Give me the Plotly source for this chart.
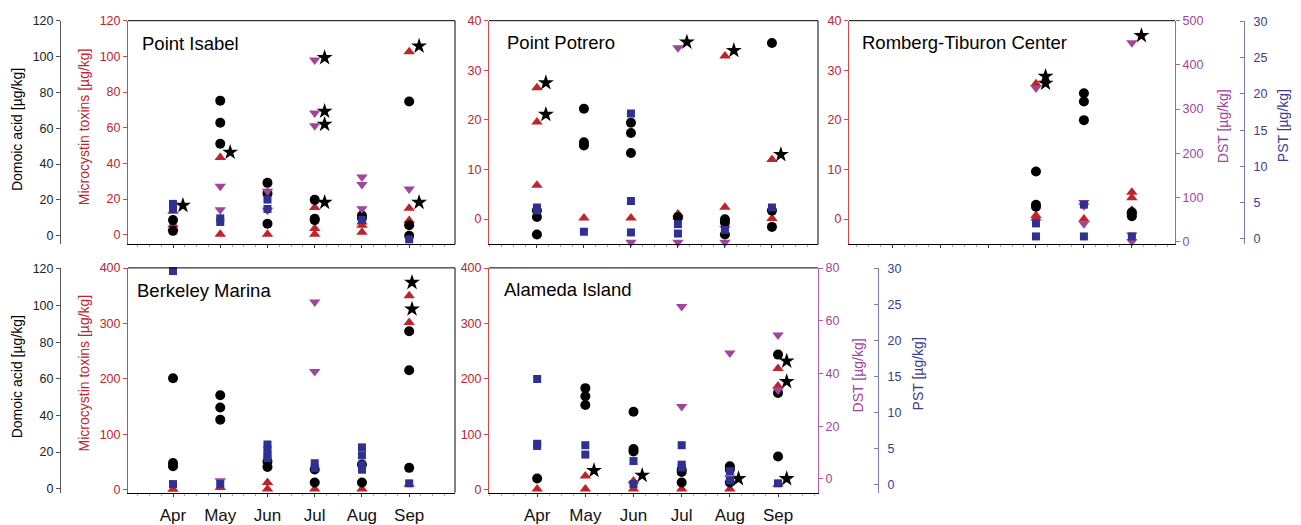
import plotly.graph_objects as go

W, H = 1301, 525
months = ["Apr", "May", "Jun", "Jul", "Aug", "Sep"]

# ---------------- Point Isabel ----------------
isabel_da_m = ["Apr","Apr","May","May","May","Jun","Jun","Jun","Jul","Jul","Jul","Aug","Aug","Sep","Sep","Sep"]
isabel_da = [8.7,2.7,75.4,63.1,51.3,29.5,23.6,6.7,20.0,9.4,8.7,11.3,9.8,74.9,5.8,0.0]
isabel_mc_m = ["Apr","Apr","Apr","May","May","Jun","Jul","Jul","Jul","Aug","Aug","Aug","Sep","Sep","Sep"]
isabel_mc = [13.2,5.5,3.8,43.3,0.2,0.2,15.3,3.5,0.2,7.1,5.3,1.3,102.6,14.8,8.0]
isabel_dst_m = ["May","May","Jun","Jun","Jul","Jul","Jul","Aug","Aug","Aug","Sep"]
isabel_dst = [125,72,114,71,411,291,262,146,129,74,119]
isabel_pst_m = ["Apr","Apr","May","May","Jun","Jun","Aug","Sep"]
isabel_pst = [4.8,4.1,2.8,2.3,5.4,4.1,2.6,-0.1]
isabel_star_m = ["Apr","May","Jul","Jul","Jul","Jul","Sep","Sep"]
isabel_star = [16.4,46.2,99.3,69.2,61.9,18.1,105.8,18.1]

# ---------------- Point Potrero ----------------
potrero_da_m = ["Apr","Apr","Apr","May","May","May","Jun","Jun","Jun","Jul","Aug","Aug","Aug","Sep","Sep","Sep"]
potrero_da = [14.0,10.4,0.7,70.9,52.2,50.4,63.1,57.3,46.2,10.4,9.1,7.3,0.7,107.6,14.0,4.9]
potrero_mc_m = ["Apr","Apr","Apr","May","Jun","Jul","Jul","Aug","Aug","Sep","Sep"]
potrero_mc = [26.5,19.6,6.8,0.2,0.2,1.0,0.4,32.9,2.4,12.0,0.1]
potrero_dst_m = ["Jun","Jul","Jul","Aug","Aug"]
potrero_dst = [-1.5,438.7,-1.5,29.4,-1.5]
potrero_pst_m = ["Apr","Apr","May","Jun","Jun","Jun","Jul","Jul","Aug","Sep"]
potrero_pst = [4.3,3.9,0.95,17.3,5.2,0.85,2.0,0.7,1.2,4.3]
potrero_star_m = ["Apr","Apr","Jul","Aug","Sep"]
potrero_star = [27.5,21.1,35.7,34.0,13.0]

# ---------------- Romberg-Tiburon Center ----------------
romberg_da_m = ["Jul","Jul","Jul","Aug","Aug","Aug","Sep","Sep"]
romberg_da = [35.8,17.3,16.2,79.5,74.9,64.5,13.1,10.8]
romberg_mc_m = ["Jul","Jul","Jul","Aug","Sep","Sep","Sep","Sep"]
romberg_mc = [27.3,0.7,0.2,0.0,5.4,4.3,1.8,1.3]
romberg_dst_m = ["Jul","Aug","Aug","Aug","Sep","Sep","Sep"]
romberg_dst = [348,88.5,81,40.5,450,14.8,0]
romberg_pst_m = ["Jul","Jul","Aug","Aug","Sep"]
romberg_pst = [2.1,0.3,4.7,0.3,0.3]
romberg_star_m = ["Jul","Jul","Sep"]
romberg_star = [28.8,27.4,37.0]

# ---------------- Berkeley Marina ----------------
berkeley_da_m = ["Apr","Apr","Apr","May","May","May","Jun","Jun","Jul","Jul","Aug","Aug","Sep","Sep","Sep"]
berkeley_da = [60.3,14.0,12.3,51.0,44.3,37.7,14.9,11.9,10.5,3.4,13.2,3.4,86.0,64.7,11.4]
berkeley_mc_m = ["Apr","May","Jun","Jun","Jul","Aug","Sep","Sep","Sep"]
berkeley_mc = [1.0,4.0,12.9,1.2,1.2,1.2,349.8,301.8,10.0]
berkeley_dst_m = ["May","Jul","Jul"]
berkeley_dst = [-0.7,67.1,40.8]
berkeley_pst_m = ["Apr","Apr","May","Jun","Jun","Jun","Jun","Jul","Jul","Aug","Aug","Aug","Aug","Sep"]
berkeley_pst = [29.7,0.1,0.1,5.6,4.9,4.2,3.7,3.0,2.3,5.2,4.1,2.8,2.1,0.2]
berkeley_star_m = ["Sep","Sep"]
berkeley_star = [374,326]

# ---------------- Alameda Island ----------------
alameda_da_m = ["Apr","May","May","May","Jun","Jun","Jun","Jul","Jul","Jul","Aug","Aug","Aug","Sep","Sep","Sep"]
alameda_da = [5.6,54.9,50.5,45.7,42.0,21.7,20.3,10.5,9.1,3.4,12.3,10.5,3.4,73.2,52.3,17.6]
alameda_mc_m = ["Apr","May","May","Jun","Jun","Jul","Aug","Sep","Sep","Sep"]
alameda_mc = [1.2,24.7,1.2,15.9,1.2,1.2,1.2,218.5,187.3,10.0]
alameda_dst_m = ["Jun","Jul","Jul","Aug","Aug","Sep","Sep"]
alameda_dst = [-1.9,65.4,27.5,47.8,0.5,54.6,33.7]
alameda_pst_m = ["Apr","Apr","Apr","May","May","Jun","Jun","Jul","Jul","Jul","Aug","Aug","Sep"]
alameda_pst = [14.7,5.7,5.4,5.5,4.2,3.3,0.1,5.5,2.8,2.4,1.9,0.6,0.2]
alameda_star_m = ["May","Jun","Aug","Sep","Sep","Sep"]
alameda_star = [34.7,25.9,19.9,232,195,19.9]

# ---------------- styles ----------------
FONT = "Liberation Sans, Arial, sans-serif"
RED = "#c1232b"
RED_LINE = "#d04848"
MAG = "#a2449b"
MAG_LINE = "#b060a8"
BLUE = "#2e3192"
BLUE_TXT = "#3b3b8f"
BLUE_LINE = "#7b7bb8"

STY = {
    "dst": dict(symbol="triangle-down", size=10, color=MAG),
    "pst": dict(symbol="square", size=8, color=BLUE),
    "da": dict(symbol="circle", size=10, color="black"),
    "mc": dict(symbol="triangle-up", size=10, color=RED),
    "star": dict(symbol="star", size=12, color="black"),
}


def px_x(p):
    return p / W


def px_y(p):
    return 1 - p / H


fig = go.Figure()


def add(ms, vals, xa, ya, kind, off=0.0):
    s = STY[kind]
    fig.add_trace(go.Scatter(
        x=[months.index(m) + off for m in ms], y=vals, mode="markers",
        xaxis=xa, yaxis=ya, showlegend=False, cliponaxis=False,
        marker=dict(symbol=s["symbol"], size=s["size"], color=s["color"],
                    line=dict(width=0)),
        hoverinfo="x+y"))


panels = [
    ("x", "y", "y2", "y3", "y4",
     (isabel_da_m, isabel_da), (isabel_mc_m, isabel_mc), (isabel_dst_m, isabel_dst),
     (isabel_pst_m, isabel_pst), (isabel_star_m, isabel_star), 0.21),
    ("x2", "y5", "y6", "y7", "y8",
     (potrero_da_m, potrero_da), (potrero_mc_m, potrero_mc), (potrero_dst_m, potrero_dst),
     (potrero_pst_m, potrero_pst), (potrero_star_m, potrero_star), 0.19),
    ("x3", "y9", "y10", "y11", "y12",
     (romberg_da_m, romberg_da), (romberg_mc_m, romberg_mc), (romberg_dst_m, romberg_dst),
     (romberg_pst_m, romberg_pst), (romberg_star_m, romberg_star), 0.2),
    ("x4", "y13", "y14", "y15", "y16",
     (berkeley_da_m, berkeley_da), (berkeley_mc_m, berkeley_mc), (berkeley_dst_m, berkeley_dst),
     (berkeley_pst_m, berkeley_pst), (berkeley_star_m, berkeley_star), 0.06),
    ("x5", "y17", "y18", "y19", "y20",
     (alameda_da_m, alameda_da), (alameda_mc_m, alameda_mc), (alameda_dst_m, alameda_dst),
     (alameda_pst_m, alameda_pst), (alameda_star_m, alameda_star), 0.18),
]

for xa, mc, da, dst, pst, dDA, dMC, dDST, dPST, dSTAR, soff in panels:
    add(*dDST, xa, dst, "dst")
    add(*dPST, xa, pst, "pst")
    add(*dDA, xa, da, "da")
    add(*dMC, xa, mc, "mc")
    add(*dSTAR, xa, mc, "star", off=soff)

ROW1 = [px_y(243), px_y(14)]
ROW2 = [px_y(497), px_y(267)]


def xaxis(l, r, rng, anchor, labels):
    return dict(domain=[px_x(l), px_x(r)], range=rng, autorange=False, anchor=anchor,
                showgrid=False, zeroline=False, showline=True, linecolor="black",
                linewidth=1, tickmode="array", tickvals=list(range(6)),
                ticktext=months, showticklabels=labels, ticks="outside", ticklen=3,
                tickcolor="#333", ticklabelstandoff=4,
                tickfont=dict(family=FONT, size=17, color="#111"),
                minor=dict(tickmode="linear", tick0=0, dtick=0.25, ticks="outside",
                           ticklen=2, tickcolor="#aaa"))


def yaxis(rng, dom, anchor, color=None, linecolor=None, tv=None, side="left",
          position=None, overlaying=None, ticks="outside", visible=True):
    d = dict(range=rng, autorange=False, domain=dom, showgrid=False, zeroline=False,
             visible=visible, fixedrange=True)
    if anchor:
        d["anchor"] = anchor
    if position is not None:
        d["anchor"] = "free"
        d["position"] = position
    if overlaying:
        d["overlaying"] = overlaying
    if visible:
        d.update(showline=True, linecolor=linecolor, linewidth=1, side=side,
                 tickmode="array", tickvals=tv, ticks=ticks, ticklen=4,
                 tickcolor=linecolor, tickfont=dict(family=FONT, size=12.5, color=color))
    return d


R1_DA = [-4.9, 120.05]
R1_DST = [-6.6, 500.2]
R1_PST = [-0.81, 30.14]
R2_DA = [-2.13, 120.53]
R2_DST = [-5.19, 80.05]
R2_PST = [-1.09, 30.14]

lay = dict(
    xaxis=xaxis(128, 455, [-0.953, 5.97], "y", False),
    xaxis2=xaxis(489, 818, [-1.02, 5.98], "y5", False),
    xaxis3=xaxis(849, 1175, [-0.9, 5.9], "y9", False),
    xaxis4=xaxis(128, 455, [-0.953, 5.97], "y13", True),
    xaxis5=xaxis(489, 818, [-1.0, 5.83], "y17", True),
    # Point Isabel
    yaxis=yaxis([-5.48, 120.05], ROW1, "x", RED, RED_LINE, list(range(0, 121, 20))),
    yaxis2=yaxis(R1_DA, ROW1, None, "#222", "#555", list(range(0, 121, 20)),
                 position=px_x(60), overlaying="y"),
    yaxis3=yaxis(R1_DST, ROW1, "x", overlaying="y", visible=False),
    yaxis4=yaxis(R1_PST, ROW1, "x", overlaying="y", visible=False),
    # Point Potrero
    yaxis5=yaxis([-5.12, 40.02], ROW1, "x2", RED, RED_LINE, list(range(0, 41, 10))),
    yaxis6=yaxis(R1_DA, ROW1, "x2", overlaying="y5", visible=False),
    yaxis7=yaxis(R1_DST, ROW1, "x2", overlaying="y5", visible=False),
    yaxis8=yaxis(R1_PST, ROW1, "x2", overlaying="y5", visible=False),
    # Romberg
    yaxis9=yaxis([-5.12, 40.02], ROW1, "x3", RED, RED_LINE, list(range(0, 41, 10))),
    yaxis10=yaxis(R1_DA, ROW1, "x3", overlaying="y9", visible=False),
    yaxis11=yaxis(R1_DST, ROW1, "x3", MAG, MAG_LINE, list(range(0, 501, 100)),
                  side="right", overlaying="y9"),
    yaxis12=yaxis(R1_PST, ROW1, None, BLUE_TXT, BLUE_LINE, list(range(0, 31, 5)),
                  side="right", position=px_x(1244), overlaying="y9", ticks="inside"),
    # Berkeley
    yaxis13=yaxis([-5.29, 400.2], ROW2, "x4", RED, RED_LINE, list(range(0, 401, 100))),
    yaxis14=yaxis(R2_DA, ROW2, None, "#222", "#555", list(range(0, 121, 20)),
                  position=px_x(60), overlaying="y13"),
    yaxis15=yaxis(R2_DST, ROW2, "x4", overlaying="y13", visible=False),
    yaxis16=yaxis(R2_PST, ROW2, "x4", overlaying="y13", visible=False),
    # Alameda
    yaxis17=yaxis([-5.29, 400.2], ROW2, "x5", RED, RED_LINE, list(range(0, 401, 100))),
    yaxis18=yaxis(R2_DA, ROW2, "x5", overlaying="y17", visible=False),
    yaxis19=yaxis(R2_DST, ROW2, "x5", MAG, MAG_LINE, list(range(0, 81, 20)),
                  side="right", overlaying="y17"),
    yaxis20=yaxis(R2_PST, ROW2, None, BLUE_TXT, BLUE_LINE, list(range(0, 31, 5)),
                  side="right", position=px_x(878), overlaying="y17", ticks="inside"),
)
lay["yaxis12"]["ticklabelstandoff"] = 6
lay["yaxis20"]["ticklabelstandoff"] = 6

fig.update_layout(**lay)


def line(x0, y0, x1, y1, color="black"):
    fig.add_shape(type="line", xref="paper", yref="paper",
                  x0=px_x(x0), y0=px_y(y0), x1=px_x(x1), y1=px_y(y1),
                  line=dict(color=color, width=1), layer="above")


# panel frames (top and right edges)
line(128, 14, 455, 14); line(455, 14, 455, 243)
line(489, 14, 818, 14); line(818, 14, 818, 243)
line(849, 14, 1175, 14)
line(128, 267, 455, 267); line(455, 267, 455, 497)
line(489, 267, 818, 267)


def ann(text, x, y, color="black", size=14, angle=0, xanchor="center"):
    fig.add_annotation(text=text, x=px_x(x), y=px_y(y), xref="paper", yref="paper",
                       showarrow=False, textangle=angle, xanchor=xanchor, yanchor="middle",
                       font=dict(family=FONT, size=size, color=color))


# panel titles
ann("Point Isabel", 140, 37, size=18.5, xanchor="left")
ann("Point Potrero", 505, 36, size=18.5, xanchor="left")
ann("Romberg-Tiburon Center", 860, 36, size=18.5, xanchor="left")
ann("Berkeley Marina", 135, 290, size=18.5, xanchor="left")
ann("Alameda Island", 502, 289, size=18.5, xanchor="left")

# axis titles
ann("Domoic acid [µg/kg]", 17, 126, angle=-90)
ann("Microcystin toxins [µg/kg]", 84, 123, color=RED, angle=-90)
ann("Domoic acid [µg/kg]", 17, 379, angle=-90)
ann("Microcystin toxins [µg/kg]", 84, 375, color=RED, angle=-90)
ann("DST [µg/kg]", 1223, 122, color=MAG, angle=-90)
ann("PST [µg/kg]", 1283, 122, color=BLUE_TXT, angle=-90)
ann("DST [µg/kg]", 858, 377, color=MAG, angle=-90)
ann("PST [µg/kg]", 918, 376, color=BLUE_TXT, angle=-90)

fig.update_layout(width=W, height=H, autosize=False,
                  margin=dict(l=0, r=0, t=0, b=0),
                  paper_bgcolor="white", plot_bgcolor="rgba(0,0,0,0)",
                  font=dict(family=FONT))

fig.write_html("out.html", config={"displayModeBar": False},
               post_script="document.body.style.margin='0';document.body.style.padding='0';")
